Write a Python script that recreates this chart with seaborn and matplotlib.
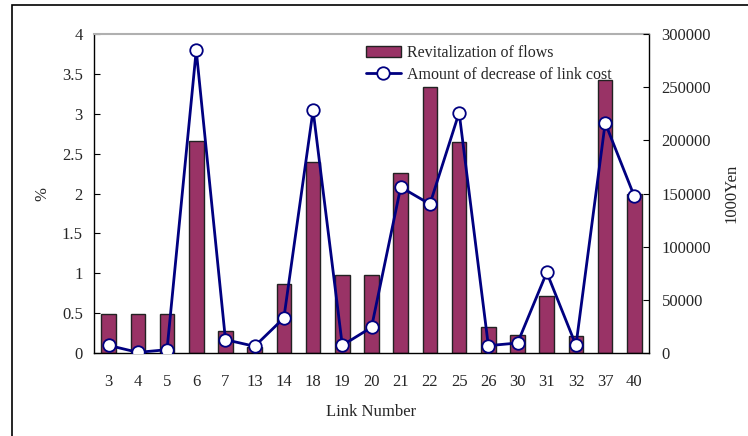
import matplotlib
matplotlib.use("Agg")
import matplotlib.pyplot as plt
import seaborn as sns
import pandas as pd
import numpy as np
from matplotlib.patches import Rectangle

links = ["3", "4", "5", "6", "7", "13", "14", "18", "19", "20", "21", "22", "25", "26", "30", "31", "32", "37", "40"]
revitalization = [0.49, 0.49, 0.49, 2.66, 0.28, 0.07, 0.86, 2.40, 0.98, 0.98, 2.26, 3.33, 2.64, 0.33, 0.22, 0.71, 0.21, 3.42, 2.00]
cost_decrease = [7200, 600, 3100, 284700, 12500, 6300, 32900, 228300, 7200, 24100, 156000, 140000, 226100, 6900, 9400, 75800, 7200, 216400, 147200]
left_ticks = [0, 0.5, 1, 1.5, 2, 2.5, 3, 3.5, 4]
left_tick_labels = ["0", "0.5", "1", "1.5", "2", "2.5", "3", "3.5", "4"]
right_ticks = [0, 50000, 100000, 150000, 200000, 250000, 300000]

sns.set_style("white")
plt.rcParams["font.family"] = ["Liberation Serif", "DejaVu Serif"]
plt.rcParams["font.size"] = 12

df = pd.DataFrame({"link": links, "rev": revitalization, "cost": cost_decrease})

fig = plt.figure(figsize=(7.48, 4.36), dpi=100)
ax = fig.add_axes([94/748, 1-353/436, (649-94)/748, (353-34)/436])

sns.barplot(data=df, x="link", y="rev", ax=ax, color="#993366", saturation=1,
            width=0.5, edgecolor="#222222", linewidth=1.0, label="Revitalization of flows")
ax.set_ylim(0, 4)
ax.set_xlim(-0.5, len(links) - 0.5)
ax.set_yticks(left_ticks)
ax.set_yticklabels(left_tick_labels)
ax.set_ylabel("%", labelpad=8)
ax.set_xlabel("Link Number", labelpad=10)
ax.tick_params(axis="x", which="major", length=0, pad=15)
ax.set_xticks(np.arange(len(links)) + 0.5, minor=True)
ax.tick_params(axis="x", which="minor", direction="in", length=4, color="black", width=0.8)
ax.tick_params(axis="y", direction="in", length=4, color="black", width=0.8, pad=8, left=True)
for s in ["left", "bottom", "right"]:
    ax.spines[s].set_color("black")
    ax.spines[s].set_linewidth(1.0)
ax.spines["top"].set_color("#b0b0b0")
ax.spines["top"].set_linewidth(1.5)

ax2 = ax.twinx()
sns.pointplot(data=df, x="link", y="cost", ax=ax2, color="#000080", markers="o",
              linestyles="-", markersize=9, linewidth=2, label="Amount of decrease of link cost",
              markerfacecolor="white", markeredgecolor="#000080", markeredgewidth=1.3)
ax2.set_ylim(0, 300000)
ax2.set_xlim(-0.5, len(links) - 0.5)
ax2.set_yticks(right_ticks)
ax2.set_yticklabels([str(v) for v in right_ticks])
ax2.set_ylabel("1000Yen", labelpad=9)
ax2.tick_params(axis="y", direction="in", length=4, color="black", width=0.8, pad=9, right=True)
for s in ax2.spines.values():
    s.set_visible(False)
if ax2.get_legend():
    ax2.get_legend().remove()
if ax.get_legend():
    ax.get_legend().remove()

h1, l1 = ax.get_legend_handles_labels()
h2, l2 = ax2.get_legend_handles_labels()
ax2.legend(h1[:1] + h2[:1], l1[:1] + l2[:1], loc="upper left", bbox_to_anchor=(0.478, 0.985),
           frameon=False, fontsize=11.5, handlelength=2.2, handletextpad=0.4, labelspacing=0.35,
           borderaxespad=0)

fig.patches.append(Rectangle((12/748, -0.1), 1.2, 1 - 5/436 + 0.1, transform=fig.transFigure,
                             fill=False, edgecolor="black", linewidth=1.2, zorder=0))

fig.savefig("out.png", dpi=100)
